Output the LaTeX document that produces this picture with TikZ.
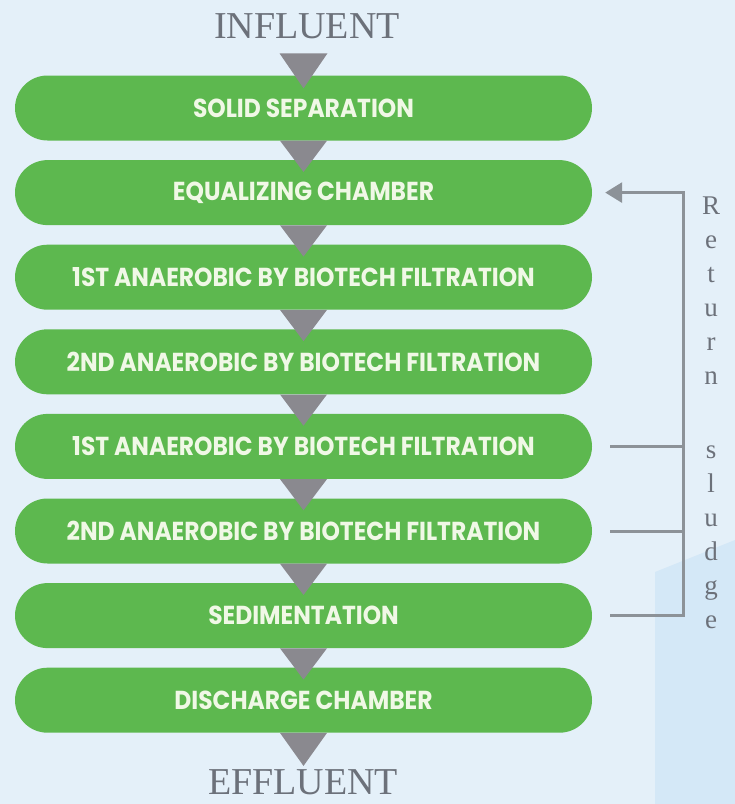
\documentclass[tikz,border=0pt]{standalone}
\usepackage{fontspec}
\setmainfont{Liberation Serif}
\newfontfamily\pillfont[FakeStretch=0.9]{Poppins}
\usetikzlibrary{shapes,arrows.meta}
\usetikzlibrary{calc,positioning}

\definecolor{bgblue}{RGB}{228,240,249}
\definecolor{panelblue}{RGB}{212,232,247}
\definecolor{pillgreen}{RGB}{93,184,79}
\definecolor{pilltext}{RGB}{240,248,230}
\definecolor{flowgray}{RGB}{138,137,143}
\definecolor{linegray}{RGB}{140,146,152}
\definecolor{labelgray}{RGB}{108,113,122}

\begin{document}
\begin{tikzpicture}[x=1pt,y=1pt,node distance=84.6pt,
                    main node/.style={rounded rectangle,fill=pillgreen,minimum width=577pt,minimum height=65pt,inner sep=0pt,text=pilltext,font=\pillfont\bfseries\fontsize{26}{26}\selectfont},
                    end text/.style={text=labelgray,font=\fontsize{38}{38}\selectfont},
                    flow tri/.style={fill=flowgray},
                    ret line/.style={draw=linegray,line width=3pt}]

  \fill[bgblue] (0,0) rectangle (735,-804);
  \fill[panelblue] (655,-804) -- (655,-572) -- (735,-540) -- (735,-804) -- cycle;
  \useasboundingbox (0,0) rectangle (735,-804);

  \node[end text] (in) at (307,-26) {INFLUENT};
  \node[main node] (1) at (303.5,-108) {SOLID SEPARATION};
  \node[main node] (2) [below of=1] {EQUALIZING CHAMBER};
  \node[main node] (3) [below of=2] {1ST ANAEROBIC BY BIOTECH FILTRATION};
  \node[main node] (4) [below of=3] {2ND ANAEROBIC BY BIOTECH FILTRATION};
  \node[main node] (5) [below of=4] {1ST ANAEROBIC BY BIOTECH FILTRATION};
  \node[main node] (6) [below of=5] {2ND ANAEROBIC BY BIOTECH FILTRATION};
  \node[main node] (7) [below of=6] {SEDIMENTATION};
  \node[main node] (8) [below of=7] {DISCHARGE CHAMBER};
  \node[end text] (out) at (303,-782) {EFFLUENT};

  % flow triangles
  \fill[flow tri] ($(1.north)+(-24,22)$) -- ($(1.north)+(24,22)$) -- ($(1.north)+(0,-13)$) -- cycle;
  \fill[flow tri] ($(1.south)+(-23.5,0)$) -- ($(1.south)+(23.5,0)$) -- ($(2.north)+(0,-12)$) -- cycle;
  \fill[flow tri] ($(2.south)+(-23.5,0)$) -- ($(2.south)+(23.5,0)$) -- ($(3.north)+(0,-12)$) -- cycle;
  \fill[flow tri] ($(3.south)+(-23.5,0)$) -- ($(3.south)+(23.5,0)$) -- ($(4.north)+(0,-12)$) -- cycle;
  \fill[flow tri] ($(4.south)+(-23.5,0)$) -- ($(4.south)+(23.5,0)$) -- ($(5.north)+(0,-12)$) -- cycle;
  \fill[flow tri] ($(5.south)+(-23.5,0)$) -- ($(5.south)+(23.5,0)$) -- ($(6.north)+(0,-12)$) -- cycle;
  \fill[flow tri] ($(6.south)+(-23.5,0)$) -- ($(6.south)+(23.5,0)$) -- ($(7.north)+(0,-12)$) -- cycle;
  \fill[flow tri] ($(7.south)+(-23.5,0)$) -- ($(7.south)+(23.5,0)$) -- ($(8.north)+(0,-12)$) -- cycle;
  \fill[flow tri] ($(8.south)+(-23.5,0)$) -- ($(8.south)+(23.5,0)$) -- ($(8.south)+(0,-33)$) -- cycle;

  % return sludge
  \coordinate (riser) at ($(7.east)+(91,0)$);
  \draw[ret line,-{Triangle[length=17pt,width=20pt]}] ([xshift=18pt]7.east) -- (riser) |- ([xshift=13pt]2.east);
  \draw[ret line] ([xshift=18pt]5.east) -- (5.east -| riser);
  \draw[ret line] ([xshift=18pt]6.east) -- (6.east -| riser);

  \node[text=labelgray,align=center,inner sep=0pt,anchor=north,font=\fontsize{27}{34}\selectfont] (rs) at (711,-197)
    {R\\e\\t\\u\\r\\n\\[40pt]s\\l\\u\\d\\g\\e};

\end{tikzpicture}
\end{document}
